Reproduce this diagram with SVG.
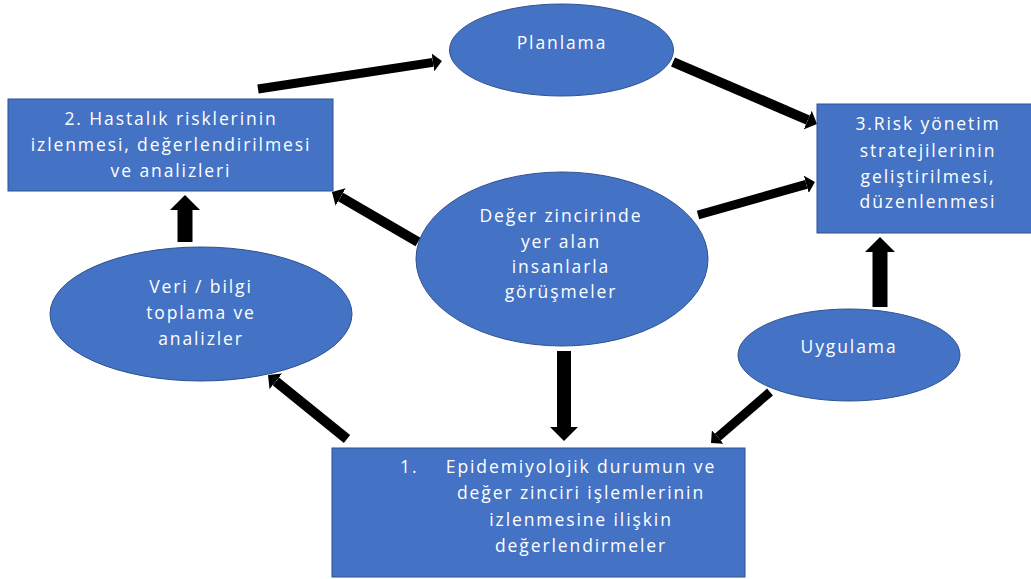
<svg xmlns="http://www.w3.org/2000/svg" width="1031" height="579" viewBox="0 0 1031 579">
<defs>
<style>
.node{fill:#4472C4;stroke:#2F528F;stroke-width:1}
.t{font-family:"Open Sans","Liberation Sans",sans-serif;font-size:17.5px;fill:#FFFFFF;text-anchor:middle;letter-spacing:1.9px}
.a{stroke:#000;fill:none;marker-end:url(#ah)}
</style>
<marker id="ah" viewBox="0 0 1 2" refX="0" refY="1" markerWidth="1" markerHeight="2" markerUnits="strokeWidth" orient="auto">
<path d="M0,0 L1,1 L0,2 z" fill="#000"/>
</marker>
</defs>
<rect width="1031" height="579" fill="#FFFFFF"/>
<g id="connectors">
<line class="a" x1="258" y1="89" x2="433" y2="62.4" stroke-width="9"/>
<line class="a" x1="673" y1="62" x2="807.8" y2="120" stroke-width="10"/>
<line class="a" x1="698" y1="215" x2="806.3" y2="184.4" stroke-width="9"/>
<line class="a" x1="418" y1="242" x2="340.6" y2="197" stroke-width="10"/>
<line class="a" x1="185" y1="242" x2="185" y2="210" stroke-width="15"/>
<line class="a" x1="347" y1="439" x2="275.8" y2="381.3" stroke-width="10"/>
<line class="a" x1="564" y1="351" x2="564" y2="427" stroke-width="14"/>
<line class="a" x1="770" y1="392" x2="717.8" y2="437.1" stroke-width="9"/>
<line class="a" x1="880" y1="307" x2="880" y2="252" stroke-width="15"/>
</g>
<g id="node-box2">
<rect class="node" x="8" y="99" width="325" height="92"/>
<text class="t" x="171" y="125">2. Hastalık risklerinin</text>
<text class="t" x="171" y="151">izlenmesi, değerlendirilmesi</text>
<text class="t" x="171" y="177">ve analizleri</text>
</g>
<g id="node-planlama">
<ellipse class="node" cx="561.5" cy="50" rx="112" ry="46"/>
<text class="t" x="562" y="49">Planlama</text>
</g>
<g id="node-box3">
<rect class="node" x="817" y="104" width="220" height="129"/>
<text class="t" x="928" y="130">3.Risk yönetim</text>
<text class="t" x="928" y="157">stratejilerinin</text>
<text class="t" x="928" y="183">geliştirilmesi,</text>
<text class="t" x="928" y="208">düzenlenmesi</text>
</g>
<g id="node-center">
<ellipse class="node" cx="562" cy="259" rx="146" ry="87"/>
<text class="t" x="561" y="222">Değer zincirinde</text>
<text class="t" x="561" y="248">yer alan</text>
<text class="t" x="561" y="273">insanlarla</text>
<text class="t" x="561" y="298">görüşmeler</text>
</g>
<g id="node-veri">
<ellipse class="node" cx="201" cy="314" rx="151" ry="67"/>
<text class="t" x="201" y="293">Veri / bilgi</text>
<text class="t" x="201" y="319">toplama ve</text>
<text class="t" x="201" y="345">analizler</text>
</g>
<g id="node-uygulama">
<ellipse class="node" cx="849" cy="355" rx="111" ry="46"/>
<text class="t" x="849" y="353">Uygulama</text>
</g>
<g id="node-box1">
<rect class="node" x="332" y="448" width="413" height="129"/>
<text class="t" x="400" y="473" style="text-anchor:start">1.</text>
<text class="t" x="581" y="473">Epidemiyolojik durumun ve</text>
<text class="t" x="581" y="499">değer zinciri işlemlerinin</text>
<text class="t" x="581" y="526">izlenmesine ilişkin</text>
<text class="t" x="581" y="552">değerlendirmeler</text>
</g>
</svg>
